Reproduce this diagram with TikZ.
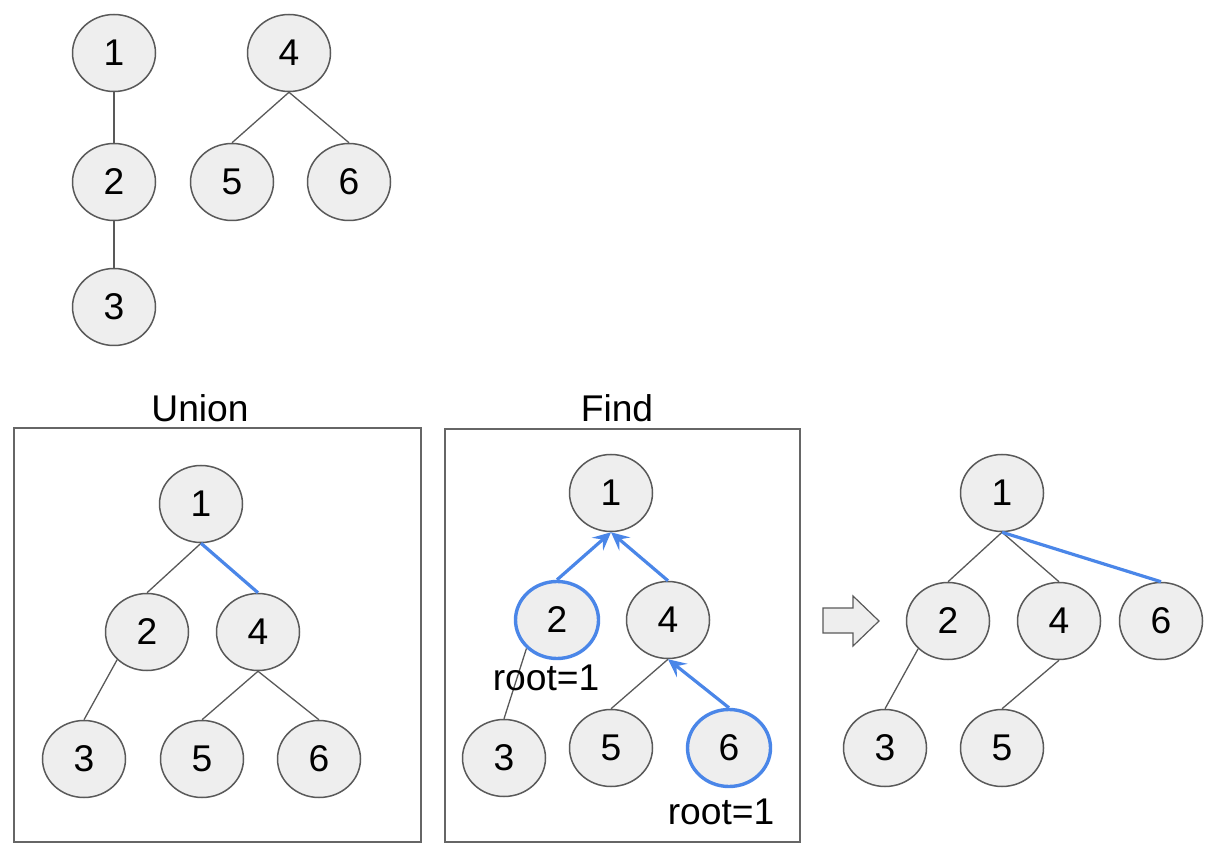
\documentclass[tikz,border=0pt]{standalone}
\usepackage{fontspec}
\setmainfont{Liberation Sans}
\usetikzlibrary{shapes.geometric,arrows.meta}
\definecolor{nodefill}{HTML}{EEEEEE}
\definecolor{linegray}{HTML}{595959}
\definecolor{boxgray}{HTML}{666666}
\definecolor{hiblue}{HTML}{4A86E8}
\begin{document}
\begin{tikzpicture}[x=0.5pt,y=-0.5pt,
  vtx/.style={ellipse,draw=linegray,line width=0.75pt,fill=nodefill,
    minimum width=41.5pt,minimum height=38.5pt,inner sep=0pt,
    font=\fontsize{18.6}{21}\selectfont},
  hivtx/.style={vtx,draw=hiblue,line width=1.7pt},
  edge/.style={draw=linegray,line width=0.65pt},
  hiedge/.style={draw=hiblue,line width=1.6pt},
  parentarrow/.style={hiedge,-{Stealth[length=9pt,width=8.5pt,inset=3.5pt]}},
  panel/.style={draw=boxgray,line width=0.8pt},
  lbl/.style={font=\fontsize{18.6}{21}\selectfont,inner sep=0pt}]

\useasboundingbox (0,0) rectangle (1224,854);

% ---- two separate trees ----
\node[vtx] (a1) at (114,53) {1};
\node[vtx] (a2) at (114,182) {2};
\node[vtx] (a3) at (114,307) {3};
\node[vtx] (a4) at (289,53) {4};
\node[vtx] (a5) at (232,182) {5};
\node[vtx] (a6) at (349,182) {6};
\draw[edge] (a1.south) -- (a2.north);
\draw[edge] (a2.south) -- (a3.north);
\draw[edge] (a4.south) -- (a5.north);
\draw[edge] (a4.south) -- (a6.north);

% ---- Union panel ----
\node[lbl] (utitle) at (200,408) {Union};
\draw[panel] (14,428) rectangle (421,842);
\node[vtx] (u1) at (201,504) {1};
\node[vtx] (u2) at (147,632) {2};
\node[vtx] (u4) at (258,632) {4};
\node[vtx] (u3) at (84,759) {3};
\node[vtx] (u5) at (202,759) {5};
\node[vtx] (u6) at (319,759) {6};
\draw[edge] (u1.south) -- (u2.north);
\draw[hiedge] (u1.south) -- (u4.north);
\draw[edge] (u2.south west) -- (u3.north);
\draw[edge] (u4.south) -- (u5.north);
\draw[edge] (u4.south) -- (u6.north);

% ---- Find panel ----
\node[lbl] (ftitle) at (617,408) {Find};
\draw[panel] (445,429) rectangle (800,842);
\node[vtx] (f1) at (611,493) {1};
\node[hivtx] (f2) at (557,620) {2};
\node[vtx] (f4) at (668,620) {4};
\node[vtx] (f3) at (504,758) {3};
\node[vtx] (f5) at (611,748) {5};
\node[hivtx] (f6) at (729,748) {6};
\draw[edge] (f2.south west) -- (f3.north);
\draw[edge] (f4.south) -- (f5.north);
\draw[parentarrow] (f2.north) -- (f1.south);
\draw[parentarrow] (f4.north) -- (f1.south);
\draw[parentarrow] (f6.north) -- (f4.south);
\node[lbl] (froot2) at (546,678) {root=1};
\node[lbl] (froot6) at (721,812) {root=1};

% ---- block arrow ----
\filldraw[fill=nodefill,draw=linegray,line width=0.6pt]
  (823,608) -- (853,608) -- (853,596) -- (879,621) -- (853,646)
  -- (853,633) -- (823,633) -- cycle;

% ---- result after path compression ----
\node[vtx] (r1) at (1002,493) {1};
\node[vtx] (r2) at (948,621) {2};
\node[vtx] (r4) at (1059,621) {4};
\node[vtx] (r6) at (1161,621) {6};
\node[vtx] (r3) at (885,748) {3};
\node[vtx] (r5) at (1002,748) {5};
\draw[edge] (r1.south) -- (r2.north);
\draw[edge] (r1.south) -- (r4.north);
\draw[hiedge] (r1.south) -- (r6.north);
\draw[edge] (r2.south west) -- (r3.north);
\draw[edge] (r4.south) -- (r5.north);
\end{tikzpicture}
\end{document}
